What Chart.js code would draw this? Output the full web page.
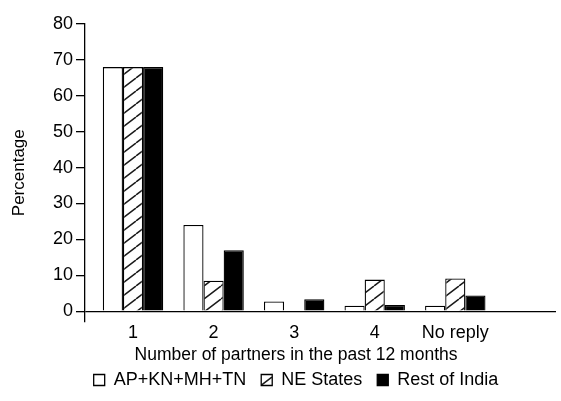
<!DOCTYPE html>
<html>
<head>
<meta charset="utf-8">
<script src="https://cdn.jsdelivr.net/npm/chart.js@4"></script>
<style>
    body { margin: 0; background: #fff; }
    #wrap { width: 561px; height: 401px; }
</style>
</head>
<body>
<div id="wrap"><canvas id="chart" width="561" height="401"></canvas></div>
<script>
const categories = ["1", "2", "3", "4", "No reply"];
const categoryPos = [1, 2, 3, 4, 5];
const yTicks = [0, 10, 20, 30, 40, 50, 60, 70, 80];

const apknmhtn = [68, 24, 2.7, 1.5, 1.5];
const neStates = [68, 8.5, null, 8.8, 9.1];
const restOfIndia = [68, 17, 3.3, 1.7, 4.4];

const FONT = "'Liberation Sans', Arial, sans-serif";

const canvas = document.getElementById("chart");
const ctx = canvas.getContext("2d");

function makeHatch() {
    const w = 17, h = 13;
    const tile = document.createElement("canvas");
    tile.width = w;
    tile.height = h;
    const g = tile.getContext("2d");
    g.fillStyle = "#fff";
    g.fillRect(0, 0, w, h);
    g.strokeStyle = "#1a1a1a";
    g.lineWidth = 1.5;
    g.beginPath();
    for (const dx of [-w, 0, w]) {
        g.moveTo(dx, h);
        g.lineTo(dx + w, 0);
    }
    g.stroke();
    return ctx.createPattern(tile, "repeat");
}

function toPoints(values) {
    return values.map((v, i) => ({ x: categoryPos[i], y: v }));
}

const barStyle = {
    borderColor: "#000",
    borderWidth: 1.3,
    barPercentage: 1,
    categoryPercentage: 0.75
};

new Chart(ctx, {
    type: "bar",
    data: {
        datasets: [
            { label: "AP+KN+MH+TN", data: toPoints(apknmhtn), backgroundColor: "#fff", ...barStyle },
            { label: "NE States", data: toPoints(neStates), backgroundColor: makeHatch(), ...barStyle },
            { label: "Rest of India", data: toPoints(restOfIndia), backgroundColor: "#000", ...barStyle }
        ]
    },
    options: {
        responsive: false,
        animation: false,
        layout: { padding: { left: 36, right: 5, top: 24, bottom: 2 } },
        scales: {
            x: {
                type: "linear",
                offset: false,
                min: 0.404,
                max: 6.25,
                grid: { display: false, drawTicks: false, offset: false },
                border: { display: false },
                afterBuildTicks: (scale) => {
                    scale.ticks = categoryPos.map(v => ({ value: v }));
                },
                ticks: {
                    padding: 1,
                    color: "#000",
                    font: { family: FONT, size: 18 },
                    callback: (v) => categories[categoryPos.indexOf(v)] ?? ""
                }
            },
            y: {
                min: -2.85,
                max: 80,
                afterBuildTicks: (scale) => {
                    scale.ticks = yTicks.map(v => ({ value: v }));
                },
                afterFit: (scale) => {
                    scale.width = 49;
                },
                grid: {
                    color: (c) => (c.tick && c.tick.value === 0 ? "#000" : "rgba(0,0,0,0)"),
                    tickColor: "#000",
                    tickLength: 9,
                    lineWidth: 1.3
                },
                border: { display: true, color: "#000", width: 1.3 },
                ticks: {
                    padding: 3,
                    color: "#000",
                    font: { family: FONT, size: 18 }
                },
                title: {
                    display: true,
                    text: "Percentage",
                    color: "#000",
                    font: { family: FONT, size: 17 },
                    padding: { top: -27, bottom: 0 }
                }
            }
        },
        plugins: {
            title: {
                display: true,
                position: "bottom",
                text: "Number of partners in the past 12 months",
                color: "#000",
                weight: 500,
                font: { family: FONT, size: 17.5, weight: "normal" },
                padding: { top: 0, bottom: -10 }
            },
            legend: {
                position: "bottom",
                labels: {
                    boxWidth: 11,
                    boxHeight: 11,
                    padding: 15,
                    color: "#000",
                    font: { family: FONT, size: 18 }
                }
            },
            tooltip: { enabled: false }
        }
    }
});
</script>
</body>
</html>
